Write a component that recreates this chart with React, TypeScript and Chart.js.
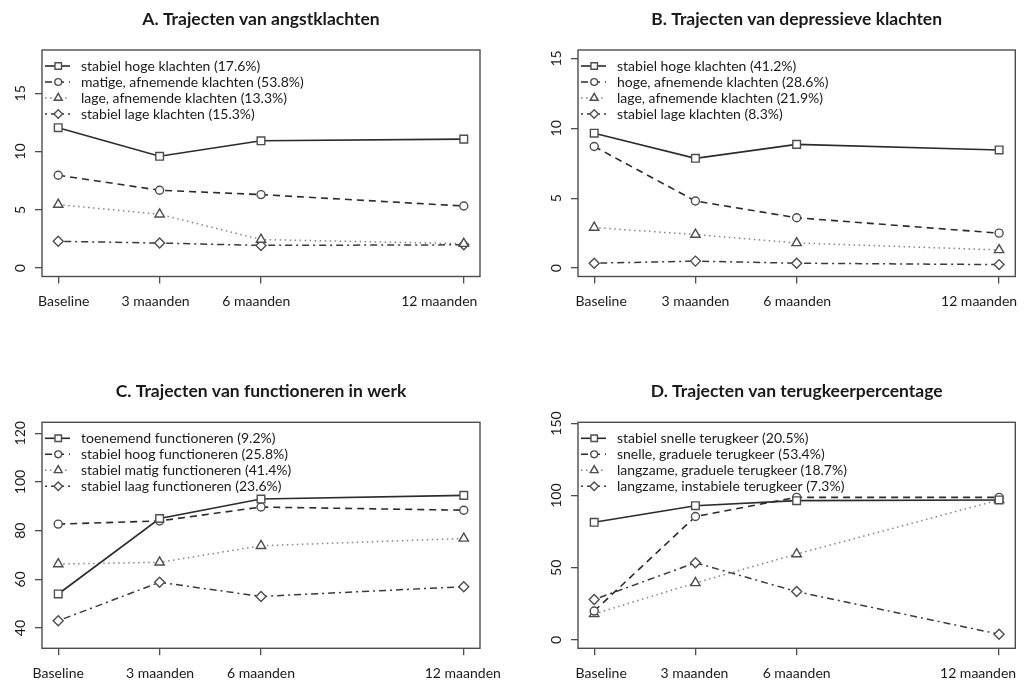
import React, { useEffect, useRef } from 'react';
import { Chart, registerables } from 'chart.js';
import { drawPoint } from 'chart.js/helpers';

Chart.register(...registerables);

// ---------- data ----------
const MONTHS = [0, 3, 6, 12];
const MONTH_LABELS = ['Baseline', '3 maanden', '6 maanden', '12 maanden'];

const A_TITLE = 'A. Trajecten van angstklachten';
const A_NAMES = [
  'stabiel hoge klachten (17.6%)',
  'matige, afnemende klachten (53.8%)',
  'lage, afnemende klachten (13.3%)',
  'stabiel lage klachten (15.3%)',
];
const A_S1 = [12.05, 9.6, 10.93, 11.07];
const A_S2 = [7.97, 6.68, 6.31, 5.33];
const A_S3 = [5.45, 4.62, 2.45, 2.1];
const A_S4 = [2.3, 2.15, 1.95, 2.0];
const A_TICKS = [0, 5, 10, 15];

const B_TITLE = 'B. Trajecten van depressieve klachten';
const B_NAMES = [
  'stabiel hoge klachten (41.2%)',
  'hoge, afnemende klachten (28.6%)',
  'lage, afnemende klachten (21.9%)',
  'stabiel lage klachten (8.3%)',
];
const B_S1 = [9.65, 7.85, 8.85, 8.45];
const B_S2 = [8.7, 4.8, 3.6, 2.5];
const B_S3 = [2.9, 2.4, 1.8, 1.3];
const B_S4 = [0.35, 0.5, 0.35, 0.25];
const B_TICKS = [0, 5, 10, 15];

const C_TITLE = 'C. Trajecten van functioneren in werk';
const C_NAMES = [
  'toenemend functioneren (9.2%)',
  'stabiel hoog functioneren (25.8%)',
  'stabiel matig functioneren (41.4%)',
  'stabiel laag functioneren (23.6%)',
];
const C_S1 = [54, 85, 93, 94.5];
const C_S2 = [82.7, 84, 89.7, 88.4];
const C_S3 = [66.3, 67, 73.8, 76.8];
const C_S4 = [43, 58.8, 53, 57];
const C_TICKS = [40, 60, 80, 100, 120];

const D_TITLE = 'D. Trajecten van terugkeerpercentage';
const D_NAMES = [
  'stabiel snelle terugkeer (20.5%)',
  'snelle, graduele terugkeer (53.4%)',
  'langzame, graduele terugkeer (18.7%)',
  'langzame, instabiele terugkeer (7.3%)',
];
const D_S1 = [81.5, 93, 96.5, 97];
const D_S2 = [20, 85.5, 98.8, 98.8];
const D_S3 = [18, 39.5, 59.5, 97];
const D_S4 = [28, 53.5, 33.5, 4];
const D_TICKS = [0, 50, 100, 150];

// ---------- styles / layout ----------
const FONT = 'Lato';
const TEXT = '#1a1a1a';
const AXIS = '#4d4d4d';
const SERIES_STYLE = [
  { color: '#2b2b2b', width: 1.6, dash: [] as number[], point: 'rect', radius: 5.4 },
  { color: '#2b2b2b', width: 1.6, dash: [7, 5], point: 'circle', radius: 4 },
  { color: '#858585', width: 1.5, dash: [1.5, 3.5], point: 'triangle', radius: 5.4 },
  { color: '#3a3a3a', width: 1.5, dash: [2, 4, 7, 4], point: 'rectRot', radius: 5 },
];

type Panel = {
  title: string;
  names: string[];
  series: number[][];
  yTicks: number[];
  yMin: number;
  yMax: number;
  pos: { left: number; top: number };
  box: { left: number; top: number; right: number; bottom: number };
  xShift: number[];
};

const W = 512;
const H = 341;

const PANELS: Panel[] = [
  {
    title: A_TITLE, names: A_NAMES, series: [A_S1, A_S2, A_S3, A_S4], yTicks: A_TICKS,
    yMin: -0.72, yMax: 18.72,
    pos: { left: 0, top: 0 }, box: { left: 42, top: 50, right: 480, bottom: 276.5 },
    xShift: [5.5, -4, -4.7, -24.5],
  },
  {
    title: B_TITLE, names: B_NAMES, series: [B_S1, B_S2, B_S3, B_S4], yTicks: B_TICKS,
    yMin: -0.6, yMax: 15.6,
    pos: { left: 512, top: 0 }, box: { left: 66, top: 50, right: 503.3, bottom: 276.5 },
    xShift: [7, 0, 0.5, -20],
  },
  {
    title: C_TITLE, names: C_NAMES, series: [C_S1, C_S2, C_S3, C_S4], yTicks: C_TICKS,
    yMin: 31.7, yMax: 124.5,
    pos: { left: 0, top: 341 }, box: { left: 42, top: 81.3, right: 480, bottom: 307.3 },
    xShift: [0, 0.5, 0, -1],
  },
  {
    title: D_TITLE, names: D_NAMES, series: [D_S1, D_S2, D_S3, D_S4], yTicks: D_TICKS,
    yMin: -5.8, yMax: 150.8,
    pos: { left: 512, top: 341 }, box: { left: 66, top: 81.3, right: 503.3, bottom: 307.3 },
    xShift: [7, -1, 0, -21],
  },
];

const TICK_FONT_SIZE = 14;
const LEGEND_FONT_SIZE = 14;
const TITLE_FONT_SIZE = 17.5;

function measure(text: string, font: string) {
  const c = document.createElement('canvas').getContext('2d')!;
  c.font = font;
  return c.measureText(text).width;
}

function makeDecor(p: Panel) {
  return {
    id: 'rdecor',
    beforeDatasetsDraw(chart: any) {
      const { ctx, chartArea: a } = chart;
      ctx.save();
      ctx.strokeStyle = AXIS;
      ctx.lineWidth = 1.4;
      ctx.setLineDash([]);
      ctx.strokeRect(a.left, a.top, a.right - a.left, a.bottom - a.top);
      ctx.restore();
    },
    afterDraw(chart: any) {
      const { ctx, chartArea: a } = chart;
      const xs = chart.scales.x;
      ctx.save();
      // title
      ctx.fillStyle = TEXT;
      ctx.font = `bold ${TITLE_FONT_SIZE}px ${FONT}`;
      ctx.textAlign = 'center';
      ctx.textBaseline = 'alphabetic';
      ctx.fillText(p.title, (a.left + a.right) / 2, a.top - 25);
      // x labels
      ctx.font = `${TICK_FONT_SIZE}px ${FONT}`;
      xs.ticks.forEach((t: any, i: number) => {
        const x = xs.getPixelForValue(t.value) + (p.xShift[i] || 0);
        ctx.fillText(MONTH_LABELS[i], x, a.bottom + 29.5);
      });
      // legend
      const mx = xs.getPixelForValue(MONTHS[0]);
      chart.data.datasets.forEach((ds: any, i: number) => {
        const y = a.top + 16 + 16 * i;
        ctx.strokeStyle = ds.borderColor;
        ctx.lineWidth = ds.borderWidth;
        ctx.setLineDash(ds.borderDash || []);
        ctx.beginPath();
        ctx.moveTo(a.left + 3, y);
        ctx.lineTo(a.left + 28, y);
        ctx.stroke();
        ctx.setLineDash([]);
        ctx.strokeStyle = ds.pointBorderColor;
        ctx.fillStyle = ds.pointBackgroundColor;
        ctx.lineWidth = ds.pointBorderWidth;
        drawPoint(ctx, { pointStyle: ds.pointStyle, radius: ds.pointRadius * 0.85, rotation: 0, borderWidth: ds.pointBorderWidth }, mx, y);
        ctx.fillStyle = TEXT;
        ctx.font = `${LEGEND_FONT_SIZE}px ${FONT}`;
        ctx.textAlign = 'left';
        ctx.textBaseline = 'middle';
        ctx.fillText(ds.label, a.left + 39, y + 0.5);
      });
      ctx.restore();
    },
  };
}

function makeConfig(p: Panel): any {
  const widest = Math.max(...p.yTicks.map((v) => measure(String(v), `${TICK_FONT_SIZE}px ${FONT}`)));
  const yPad = 15 - widest / 2;
  return {
    type: 'line',
    data: {
      datasets: p.series.map((vals, i) => ({
        label: p.names[i],
        data: MONTHS.map((m, j) => ({ x: m, y: vals[j] })),
        borderColor: SERIES_STYLE[i].color,
        borderWidth: SERIES_STYLE[i].width,
        borderDash: SERIES_STYLE[i].dash,
        pointStyle: SERIES_STYLE[i].point,
        pointRadius: SERIES_STYLE[i].radius,
        pointBorderColor: AXIS,
        pointBackgroundColor: '#fff',
        pointBorderWidth: 1.4,
        tension: 0,
        fill: false,
        clip: false,
      })),
    },
    options: {
      animation: false,
      responsive: false,
      maintainAspectRatio: false,
      events: [],
      layout: { padding: { top: p.box.top, right: W - p.box.right, left: 0, bottom: 0 } },
      plugins: { legend: { display: false }, tooltip: { enabled: false }, title: { display: false } },
      scales: {
        x: {
          type: 'linear',
          min: -0.48,
          max: 12.48,
          afterBuildTicks: (s: any) => { s.ticks = MONTHS.map((v) => ({ value: v })); },
          afterFit: (s: any) => { s.height = H - p.box.bottom; },
          grid: { drawOnChartArea: false, drawTicks: true, tickLength: 7, color: AXIS, lineWidth: 1.3 },
          border: { display: false },
          ticks: { display: false },
        },
        y: {
          type: 'linear',
          min: p.yMin,
          max: p.yMax,
          afterBuildTicks: (s: any) => { s.ticks = p.yTicks.map((v) => ({ value: v })); },
          afterFit: (s: any) => { s.width = p.box.left; },
          grid: { drawOnChartArea: false, drawTicks: true, tickLength: 7, color: AXIS, lineWidth: 1.3 },
          border: { display: false },
          ticks: {
            display: true,
            autoSkip: false,
            minRotation: 90,
            maxRotation: 90,
            crossAlign: 'center',
            padding: yPad,
            color: TEXT,
            font: { family: FONT, size: TICK_FONT_SIZE },
            callback: (v: any) => String(v),
          },
        },
      },
    },
    plugins: [makeDecor(p)],
  };
}

function PanelChart({ p }: { p: Panel }) {
  const ref = useRef<HTMLCanvasElement | null>(null);
  useEffect(() => {
    if (!ref.current) return;
    const chart = new Chart(ref.current, makeConfig(p));
    return () => chart.destroy();
  }, [p]);
  return (
    <div style={{ position: 'absolute', left: p.pos.left, top: p.pos.top, width: W, height: H }}>
      <canvas ref={ref} width={W} height={H} style={{ width: W, height: H, display: 'block' }} />
    </div>
  );
}

export default function App() {
  return (
    <div style={{ position: 'absolute', left: 0, top: 0, width: 1024, height: 682, background: '#fff' }}>
      {PANELS.map((p, i) => (
        <PanelChart key={i} p={p} />
      ))}
    </div>
  );
}
